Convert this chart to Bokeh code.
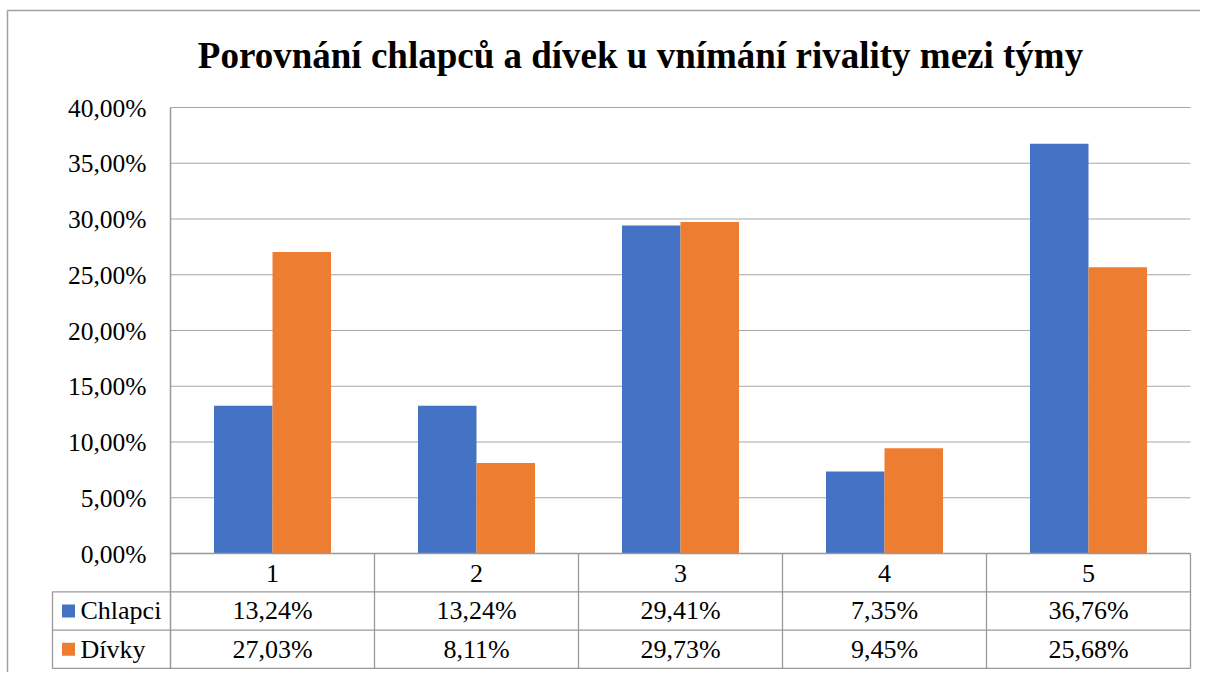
from bokeh.plotting import figure
from bokeh.models import Range1d
from bokeh.core.properties import value
from bokeh.embed import file_html
from bokeh.resources import INLINE

# ---- data ----
title_text = "Porovnání chlapců a dívek u vnímání rivality mezi týmy"
categories = ["1", "2", "3", "4", "5"]
series_names = ["Chlapci", "Dívky"]
chlapci = [13.24, 13.24, 29.41, 7.35, 36.76]
divky = [27.03, 8.11, 29.73, 9.45, 25.68]
y_ticks = [0, 5, 10, 15, 20, 25, 30, 35, 40]

BLUE = "#4472C4"
ORANGE = "#ED7D31"
GRID = "#a6a6a6"
LINE = "#999999"

def F():
    return value("Liberation Serif")

def pct(v):
    return f"{v:.2f}".replace(".", ",") + "%"

# layout: pixel scale
W, H = 1200, 672
CAT_PX = 204.0          # px per category
X0_PX = 170.0           # px position of x = 0
PCT_PX = 11.15          # px per percent
Y0_PX = 553.0           # px position of y = 0
def px2y(d):            # pixel distance -> data units (y)
    return d / PCT_PX

n = len(categories)
p = figure(width=W, height=H, output_backend="svg", toolbar_location=None,
           x_range=Range1d(-X0_PX / CAT_PX, (W - X0_PX) / CAT_PX),
           y_range=Range1d(-(H - Y0_PX) / PCT_PX, Y0_PX / PCT_PX),
           x_axis_location=None, y_axis_location=None, min_border=0)
p.outline_line_color = None
p.xgrid.visible = False
p.ygrid.visible = False
p.background_fill_color = "white"
p.border_fill_color = "white"

ymax = y_ticks[-1]
ROW_H = px2y(38.3)
LEG_X = -(X0_PX - 52) / CAT_PX

# outer chart border (left and top visible)
bx = -(X0_PX - 7) / CAT_PX
by = px2y(Y0_PX - 10)
p.segment(x0=[bx, bx], y0=[by, by], x1=[bx, 6], y1=[-20, by],
          line_color="#a0a0a0", line_width=1.5)

# gridlines
p.segment(x0=[0] * len(y_ticks), y0=y_ticks, x1=[n] * len(y_ticks), y1=y_ticks,
          line_color=GRID, line_width=1)

# bars
xs = [i + 0.5 for i in range(n)]
bw = 58.5 / CAT_PX
p.vbar(x=[x - bw / 2 for x in xs], top=chlapci, width=bw, bottom=0,
       fill_color=BLUE, line_color=None)
p.vbar(x=[x + bw / 2 for x in xs], top=divky, width=bw, bottom=0,
       fill_color=ORANGE, line_color=None)

# axis line + table lines
rows_y = [0, -ROW_H, -2 * ROW_H, -3 * ROW_H]
p.segment(x0=[0], y0=[ymax], x1=[0], y1=[rows_y[-1]], line_color=LINE, line_width=1.5)
p.segment(x0=list(range(1, n + 1)), y0=[0] * n, x1=list(range(1, n + 1)), y1=[rows_y[-1]] * n,
          line_color=LINE, line_width=1.3)
p.segment(x0=[LEG_X], y0=[rows_y[1]], x1=[LEG_X], y1=[rows_y[-1]], line_color=LINE, line_width=1.3)
p.segment(x0=[0] + [LEG_X] * 3, y0=rows_y, x1=[n] * 4, y1=rows_y, line_color=LINE, line_width=1.3)

# y tick labels
p.text(x=[-(X0_PX - 146) / CAT_PX] * len(y_ticks), y=[t - px2y(0.7) for t in y_ticks],
       text=[pct(v) for v in y_ticks],
       text_font=F(), text_font_style="normal", text_font_size="25.5px", text_align="right",
       text_baseline="middle")

# title
p.text(x=[(640 - X0_PX) / CAT_PX], y=[px2y(Y0_PX - 55)], text=[title_text], text_font=F(),
       text_font_size="37px", text_font_style="bold", text_align="center",
       text_baseline="middle")

# table: category row
p.text(x=xs, y=[-ROW_H / 2 - px2y(1)] * n, text=categories, text_font=F(),
       text_font_style="normal", text_font_size="26px", text_align="center",
       text_baseline="middle")
# value rows
for r, (vals, color, name) in enumerate(zip([chlapci, divky], [BLUE, ORANGE], series_names)):
    cy = -ROW_H * (r + 1.5)
    p.text(x=xs, y=[cy] * n, text=[pct(v) for v in vals], text_font=F(),
           text_font_style="normal", text_font_size="26px", text_align="center",
           text_baseline="middle")
    p.scatter(x=[-(X0_PX - 68) / CAT_PX], y=[cy], marker="square", size=13,
              fill_color=color, line_color=None)
    p.text(x=[-(X0_PX - 80) / CAT_PX], y=[cy], text=[name], text_font=F(),
           text_font_style="normal", text_font_size="26px", text_align="left",
           text_baseline="middle")

open("out.html", "w").write(file_html(p, INLINE))
